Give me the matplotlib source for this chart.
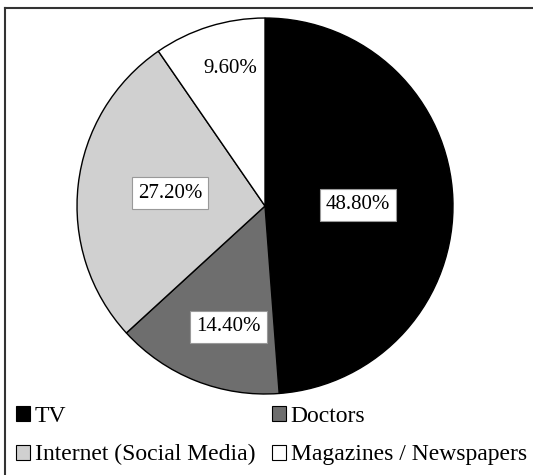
import matplotlib.pyplot as plt
from matplotlib.patches import Patch
from matplotlib.lines import Line2D
import numpy as np

plt.rcParams['font.family'] = ['Liberation Serif', 'DejaVu Serif']

labels = ["TV", "Doctors", "Internet (Social Media)", "Magazines / Newspapers"]
shares = [48.8, 14.4, 27.2, 9.6]
colors = ["#000000", "#6e6e6e", "#d0d0d0", "#ffffff"]
# label placement: distance from centre (fraction of radius) and angle nudge in degrees
label_dist = [0.495, 0.673, 0.51, 0.757]
label_turn = [-1.5, 4.6, -1.3, -3.0]
boxed = [True, True, True, False]

fig = plt.figure(figsize=(5.33, 4.75), dpi=100)
ax = fig.add_axes([0.1445, 0.1705, 0.7054, 0.7916])

wedges, _ = ax.pie(shares, colors=colors, startangle=90, counterclock=False,
                   wedgeprops=dict(edgecolor="black", linewidth=1.0))
ax.set_xlim(-1, 1)
ax.set_ylim(-1, 1)
ax.set_aspect("equal")

for w, val, d, t, b in zip(wedges, shares, label_dist, label_turn, boxed):
    ang = np.deg2rad((w.theta1 + w.theta2) / 2 + t)
    x, y = d * np.cos(ang), d * np.sin(ang)
    bbox = dict(boxstyle="square,pad=0.3", fc="white", ec="#999999", lw=0.8) if b else None
    ax.text(x, y, f"{val:.2f}%", ha="center", va="center", fontsize=15, bbox=bbox)

# legend fills row by row: TV, Doctors / Internet, Magazines
order = [0, 2, 1, 3]
handles = [Patch(facecolor=colors[i], edgecolor="black", linewidth=0.8) for i in order]
fig.legend(handles, [labels[i] for i in order], loc="lower left",
           bbox_to_anchor=(0.03, 0.02), ncol=2, frameon=False, fontsize=17,
           handlelength=0.6, handleheight=0.6, handletextpad=0.2,
           columnspacing=0.7, labelspacing=0.75, borderaxespad=0, borderpad=0)

# outer frame (left and top edges only)
fig.add_artist(Line2D([5 / 533, 5 / 533], [0, 1 - 8 / 475], transform=fig.transFigure,
                      color="#333333", lw=1.5))
fig.add_artist(Line2D([5 / 533, 1], [1 - 8 / 475, 1 - 8 / 475], transform=fig.transFigure,
                      color="#333333", lw=1.5))

fig.savefig("out.png", dpi=100)
